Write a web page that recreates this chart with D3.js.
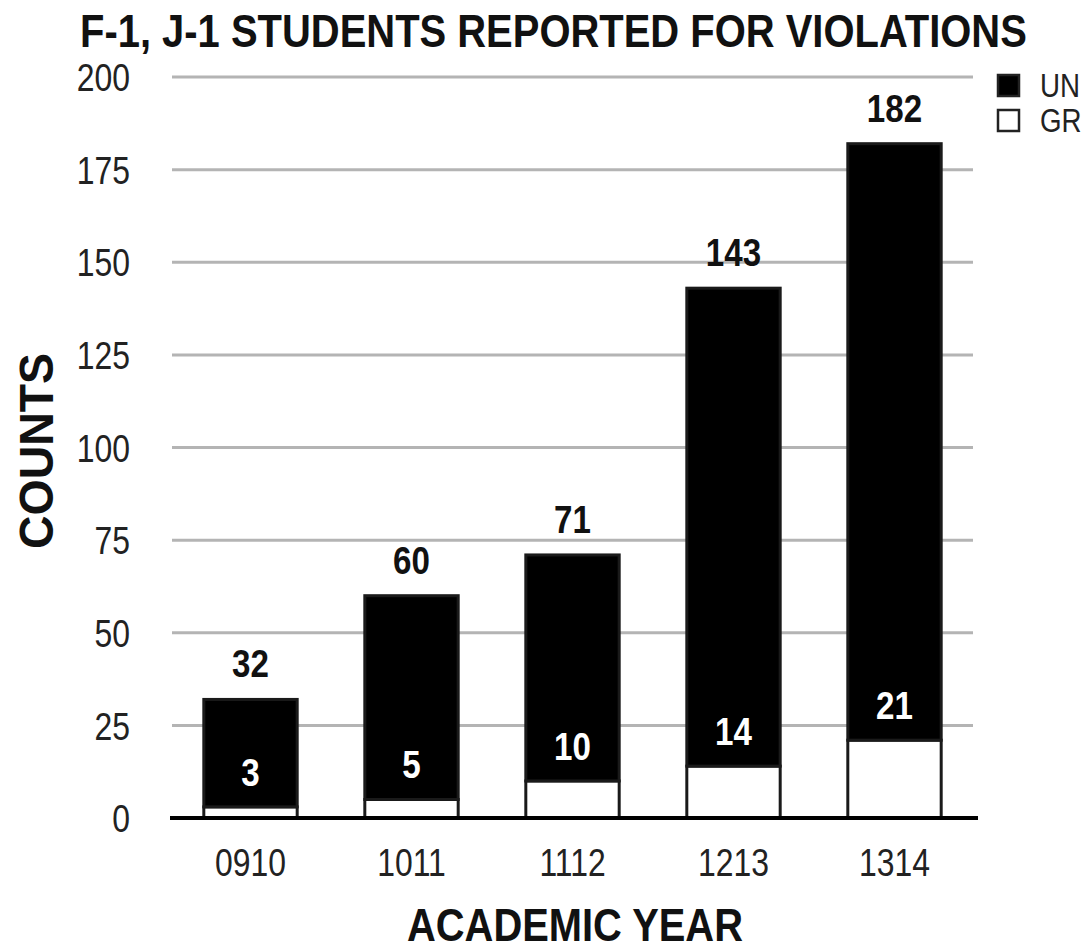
<!DOCTYPE html>
<html>
<head>
<meta charset="utf-8">
<script src="https://cdn.jsdelivr.net/npm/d3@7"></script>
<style>
  html, body { margin: 0; padding: 0; background: #fff; }
  svg { display: block; }
  text { font-family: 'Liberation Sans', Arial, sans-serif; }
</style>
</head>
<body>
<svg id="chart" width="1088" height="950"></svg>
<script>
// ---- data ----
const years = ["0910", "1011", "1112", "1213", "1314"];
const undergrad = [29, 55, 61, 129, 161];   // UN (black)
const graduate = [3, 5, 10, 14, 21];        // GR (white)
const yTicks = [0, 25, 50, 75, 100, 125, 150, 175, 200];
const seriesNames = ["UN", "GR"];
const titleText = "F-1, J-1 STUDENTS REPORTED FOR VIOLATIONS";
const yTitle = "COUNTS";
const xTitle = "ACADEMIC YEAR";

const rows = years.map((yr, i) => ({ year: yr, GR: graduate[i], UN: undergrad[i] }));

const svg = d3.select("#chart");
const W = 1088, H = 950;
svg.append("rect").attr("width", W).attr("height", H).attr("fill", "#fff");

const plotLeft = 170, plotRight = 975;
const y = d3.scaleLinear().domain([0, 200]).range([818, 77]);
const x = d3.scaleBand().domain(years).range([plotLeft, plotRight]).paddingInner(0.42).paddingOuter(0.21);

// condensed-type look: horizontal scale
const NARROW = 0.84;

// gridlines
svg.append("g").selectAll("line").data(yTicks.filter(t => t > 0)).join("line")
  .attr("x1", 172).attr("x2", 973)
  .attr("y1", d => y(d)).attr("y2", d => y(d))
  .attr("stroke", "#b4b4b4").attr("stroke-width", 3);

// y axis labels
const yAxis = svg.append("g").attr("transform", "translate(172,0)")
  .call(d3.axisLeft(y).tickValues(yTicks).tickSize(0).tickPadding(42));
yAxis.select(".domain").remove();
yAxis.selectAll("text")
  .attr("font-family", "'Liberation Sans', Arial, sans-serif")
  .attr("font-size", 38).attr("fill", "#222").attr("dy", "0.36em")
  .attr("x", -42 / NARROW)
  .attr("transform", `scale(${NARROW},1)`);

// stacked bars
const stack = d3.stack().keys(["GR", "UN"])(rows);
const fills = { GR: "#ffffff", UN: "#000000" };
svg.append("g").selectAll("g").data(stack).join("g")
  .attr("fill", d => fills[d.key])
  .selectAll("rect").data(d => d).join("rect")
  .attr("x", d => x(d.data.year))
  .attr("width", x.bandwidth())
  .attr("y", d => y(d[1]))
  .attr("height", d => y(d[0]) - y(d[1]))
  .attr("stroke", "#1a1a1a").attr("stroke-width", 3);

// baseline
svg.append("line").attr("x1", 170).attr("x2", 978)
  .attr("y1", y(0)).attr("y2", y(0))
  .attr("stroke", "#000").attr("stroke-width", 4);

// total labels
svg.append("g").selectAll("text").data(rows).join("text")
  .attr("transform", d => `translate(${x(d.year) + x.bandwidth() / 2},${y(d.GR + d.UN) - 22}) scale(0.85,1)`)
  .attr("text-anchor", "middle")
  .attr("font-size", 39).attr("font-weight", "bold").attr("fill", "#111")
  .text(d => d.GR + d.UN);

// GR labels (white, inside black)
svg.append("g").selectAll("text").data(rows).join("text")
  .attr("transform", d => `translate(${x(d.year) + x.bandwidth() / 2},${y(d.GR) - 21}) scale(0.85,1)`)
  .attr("text-anchor", "middle")
  .attr("font-size", 39).attr("font-weight", "bold").attr("fill", "#fff")
  .text(d => d.GR);

// x axis labels
const xAxis = svg.append("g").attr("transform", "translate(0,876)")
  .call(d3.axisBottom(x).tickSize(0));
xAxis.select(".domain").remove();
xAxis.selectAll("text")
  .attr("y", 0).attr("dy", 0)
  .attr("font-family", "'Liberation Sans', Arial, sans-serif")
  .attr("font-size", 38).attr("fill", "#222")
  .attr("transform", `scale(${NARROW},1)`);

// helper: fit text to a width by horizontal scaling
function fitWidth(sel, target) {
  const w = sel.node().getComputedTextLength();
  return target / w;
}

// title
const tG = svg.append("g");
const tT = tG.append("text").attr("x", 0).attr("y", 0)
  .attr("font-size", 47).attr("font-weight", "bold").attr("fill", "#111")
  .text(titleText);
tG.attr("transform", `translate(80,47) scale(${fitWidth(tT, 947)},1)`);

// y title
const yG = svg.append("g");
const yT = yG.append("text").attr("text-anchor", "middle")
  .attr("font-size", 48).attr("font-weight", "bold").attr("fill", "#111")
  .text(yTitle);
yG.attr("transform", `translate(53,451) rotate(-90) scale(${fitWidth(yT, 196)},1)`);

// x title
const xG = svg.append("g");
const xT = xG.append("text").attr("text-anchor", "middle")
  .attr("font-size", 46).attr("font-weight", "bold").attr("fill", "#111")
  .text(xTitle);
xG.attr("transform", `translate(575,941) scale(${fitWidth(xT, 336)},1)`);

// legend
const lg = svg.append("g");
const lgItems = lg.selectAll("g").data(seriesNames).join("g")
  .attr("transform", (d, i) => `translate(998,${75 + i * 35})`);
lgItems.append("rect").attr("width", 21).attr("height", 21)
  .attr("fill", d => d === "UN" ? "#000" : "#fff")
  .attr("stroke", "#222").attr("stroke-width", 2.5);
lgItems.append("text")
  .attr("transform", `translate(42,22) scale(${NARROW},1)`)
  .attr("font-size", 33).attr("fill", "#222")
  .text(d => d);
</script>
</body>
</html>
